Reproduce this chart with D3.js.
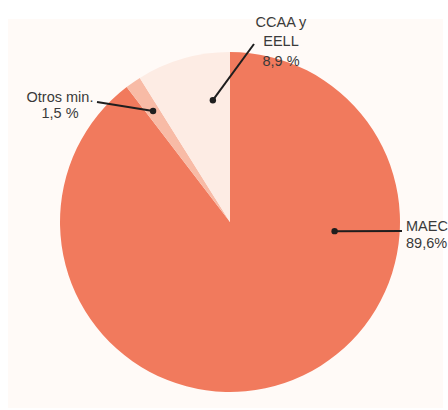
<!DOCTYPE html>
<html>
<head>
<meta charset="utf-8">
<script src="https://cdn.jsdelivr.net/npm/d3@7"></script>
<style>
  html, body { margin: 0; padding: 0; background: #ffffff; }
  svg { display: block; }
  text { font-family: "Liberation Sans", Arial, sans-serif; fill: #3a3a3a; }
</style>
</head>
<body>
<svg id="chart" width="448" height="410"></svg>
<script>
// Reparto por agente (porcentaje del total)
const agentes = ["MAEC", "Otros min.", "CCAA y EELL"];
const porcentajes = [89.6, 1.5, 8.9];
const etiquetasValor = ["89,6%", "1,5 %", "8,9 %"];
const colores = ["#f17a5d", "#f8bba6", "#fdece4"];

const svg = d3.select("#chart");
const W = 448, H = 410;
const cx = 230, cy = 222, R = 170;

// Panel de fondo
svg.append("rect")
  .attr("x", 8).attr("y", 19)
  .attr("width", 435).attr("height", 389)
  .attr("fill", "#fffaf7");

const datos = agentes.map((a, i) => ({ agente: a, valor: porcentajes[i], texto: etiquetasValor[i], color: colores[i] }));

const pie = d3.pie().value(d => d.valor).sort(null);
const arcos = pie(datos);
const arc = d3.arc().innerRadius(0).outerRadius(R);

const g = svg.append("g").attr("transform", `translate(${cx},${cy})`);

g.selectAll("path.sector")
  .data(arcos)
  .join("path")
  .attr("class", "sector")
  .attr("d", arc)
  .attr("fill", d => d.data.color);

// Colocación de las etiquetas: punto dentro del sector (fracción del ángulo, radio)
// y texto con su línea guía
const layout = {
  "MAEC":        { f: 0.2945, r: 105, lines: ["MAEC", null], tx: 406, ty: 231, dy: 17, anchor: "start", lx: 402, ly: 231 },
  "Otros min.":  { f: 0.5,    r: 135, lines: ["Otros min.", null], tx: 60, ty: 102, dy: 16, anchor: "middle", lx: 97, ly: 102 },
  "CCAA y EELL": { f: 0.75,   r: 123, lines: ["CCAA y", "EELL", null], tx: 281, ty: 26.5, dy: 19.5, anchor: "middle", lx: 254, ly: 44 }
};

arcos.forEach(a => {
  const L = layout[a.data.agente];
  const ang = a.startAngle + L.f * (a.endAngle - a.startAngle);
  const px = cx + L.r * Math.sin(ang);
  const py = cy - L.r * Math.cos(ang);

  svg.append("line")
    .attr("x1", px).attr("y1", py)
    .attr("x2", L.lx).attr("y2", L.ly)
    .attr("stroke", "#1e1e1e").attr("stroke-width", 2);

  svg.append("circle")
    .attr("cx", px).attr("cy", py).attr("r", 3.2)
    .attr("fill", "#1e1e1e");

  const t = svg.append("text")
    .attr("text-anchor", L.anchor)
    .attr("font-size", 14.5);
  L.lines.forEach((ln, i) => {
    t.append("tspan")
      .attr("x", L.tx)
      .attr("y", L.ty + i * L.dy)
      .text(ln === null ? a.data.texto : ln);
  });
});
</script>
</body>
</html>
